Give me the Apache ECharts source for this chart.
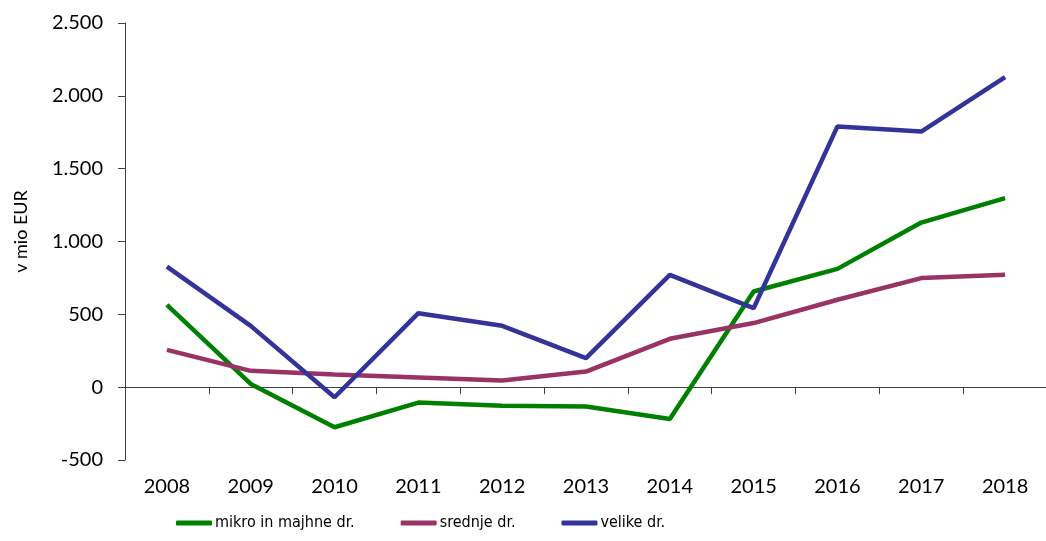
<!DOCTYPE html>
<html lang="sl">
<head>
    <meta charset="UTF-8">
    <title>v mio EUR</title>
    <script src="https://cdn.jsdelivr.net/npm/echarts@6/dist/echarts.min.js"></script>
    <style>
        body { margin: 0; padding: 0; background: #fff; }
        #chart { width: 1046px; height: 541px; }
    </style>
</head>
<body>
<div id="chart"></div>
<script>
    // Data
    const years = ['2008', '2009', '2010', '2011', '2012', '2013', '2014', '2015', '2016', '2017', '2018'];
    const mikro = [565, 22, -275, -106, -128, -133, -218, 657, 812, 1130, 1298];
    const srednje = [256, 112, 87, 66, 45, 107, 332, 440, 600, 749, 772];
    const velike = [828, 421, -69, 508, 421, 199, 771, 542, 1790, 1755, 2129];

    const seriesNames = ['mikro in majhne dr.', 'srednje dr.', 'velike dr.'];
    const seriesColors = ['#008000', '#993366', '#333399'];

    const chart = echarts.init(document.getElementById('chart'));

    function fmt(v) {
        // thousands separator "."
        const s = String(Math.abs(v)).replace(/\B(?=(\d{3})+(?!\d))/g, '.');
        return (v < 0 ? '-' : '') + s;
    }

    function line(name, data, color) {
        return {
            name: name,
            type: 'line',
            data: data,
            symbol: 'none',
            lineStyle: { color: color, width: 4.5 },
            itemStyle: { color: color },
            z: 3
        };
    }

    const options = {
        animation: false,
        grid: { left: 125, top: 23, width: 922, height: 437, outerBoundsMode: 'none' },
        legend: {
            data: seriesNames,
            left: 171,
            top: 510,
            itemWidth: 36,
            itemHeight: 5,
            itemGap: 46,
            icon: 'roundRect',
            textStyle: {
                fontFamily: '"DejaVu Sans Condensed", Lato, sans-serif',
                fontSize: 16, color: '#000', padding: [0, 0, 0, -2]
            }
        },
        xAxis: [
            {
                // zero line with ticks between the years
                type: 'category',
                data: years,
                position: 'bottom',
                axisLine: { show: true, onZero: true, lineStyle: { color: '#404040', width: 1 } },
                axisTick: { show: true, length: 7, lineStyle: { color: '#404040' } },
                axisLabel: { show: false }
            },
            {
                // year labels below the plot
                type: 'category',
                data: years,
                position: 'bottom',
                axisLine: { show: false, onZero: false },
                axisTick: { show: false },
                axisLabel: { fontFamily: 'Lato', fontSize: 20, color: '#000', margin: 17 }
            }
        ],
        yAxis: {
            type: 'value',
            min: -500,
            max: 2500,
            interval: 500,
            name: 'v mio EUR',
            nameLocation: 'middle',
            nameGap: 95,
            nameTextStyle: { fontFamily: 'Lato', fontSize: 18, color: '#000', padding: [0, 0, 0, 20] },
            axisLine: { show: true, lineStyle: { color: '#404040', width: 1 } },
            axisTick: { show: true, length: 7, lineStyle: { color: '#404040' } },
            axisLabel: { fontFamily: 'Lato', fontSize: 20, color: '#000', margin: 22, formatter: fmt },
            splitLine: { show: false }
        },
        series: [
            line(seriesNames[0], mikro, seriesColors[0]),
            line(seriesNames[1], srednje, seriesColors[1]),
            line(seriesNames[2], velike, seriesColors[2])
        ]
    };

    chart.setOption(options);
</script>
</body>
</html>
